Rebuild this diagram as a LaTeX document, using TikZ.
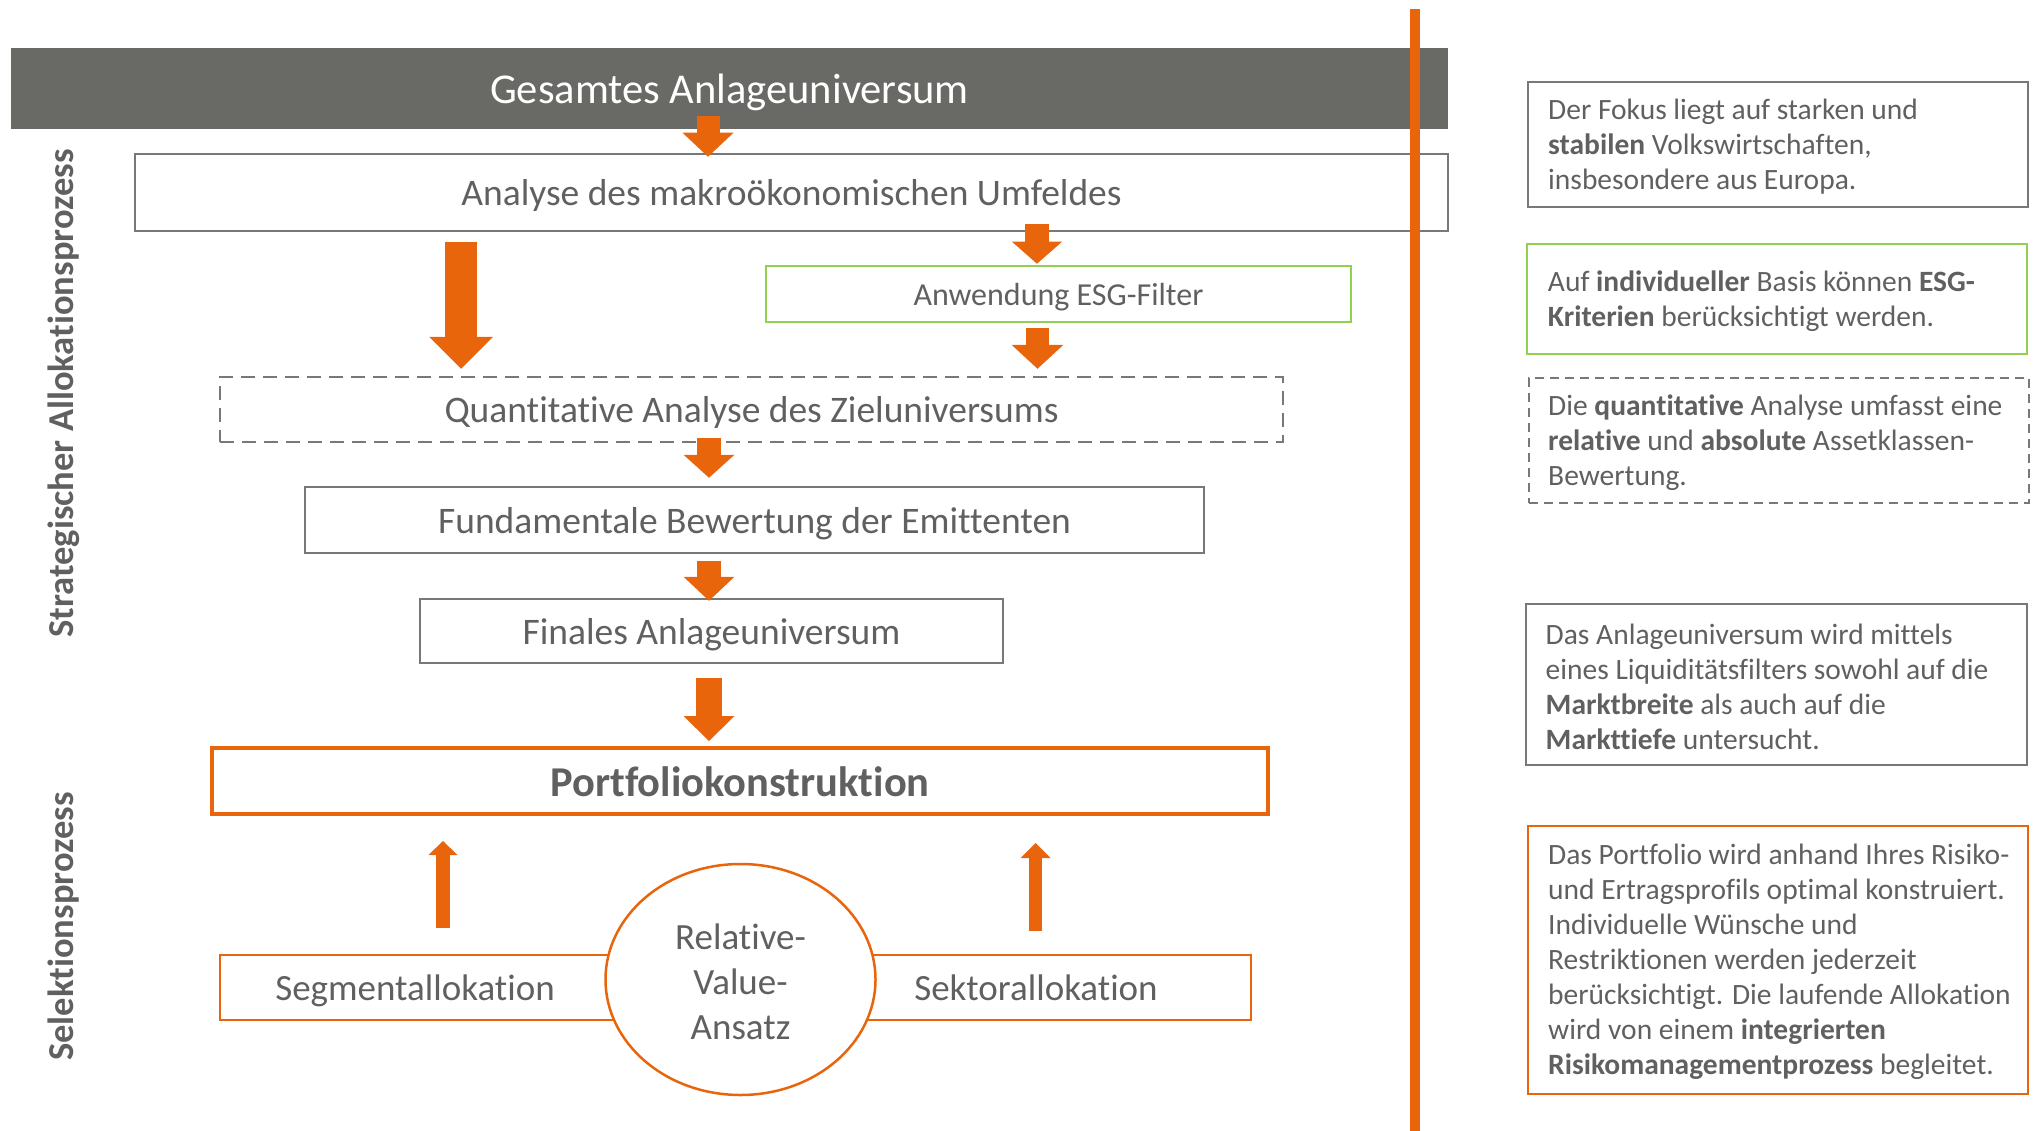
\documentclass[tikz,border=0pt]{standalone}
\usepackage{fontspec}
\setmainfont{Carlito}[Ligatures=CommonOff]
\usetikzlibrary{arrows.meta,shapes.geometric,calc}
\definecolor{org}{RGB}{233,101,12}
\definecolor{bargray}{RGB}{105,105,102}
\definecolor{txtgray}{RGB}{96,96,96}
\definecolor{lingray}{RGB}{120,120,120}
\definecolor{esggreen}{RGB}{146,208,80}
\newcommand\fbar{\fontsize{42.5}{50}\selectfont}
\newcommand\fmain{\fontsize{37.5}{45}\selectfont}
\newcommand\fesg{\fontsize{32}{38}\selectfont}
\newcommand\fport{\fontsize{42.5}{50}\selectfont\bfseries}
\newcommand\fseg{\fontsize{37}{44}\selectfont}
\newcommand\frv{\fontsize{37}{45}\selectfont}
\newcommand\fsa{\fontsize{29.5}{35}\selectfont}
\newcommand\flab{\fontsize{36.5}{44}\selectfont\bfseries}
\begin{document}
\begin{tikzpicture}[x=1pt,y=-1pt,
  every node/.style={text=txtgray, inner sep=0pt},
  gbox/.style={draw=lingray, line width=2.5pt, font=\fmain, text height=36pt, text depth=9.4pt},
  obox/.style={draw=org, line width=2.5pt, font=\fseg, text height=35.5pt, text depth=9.3pt},
  rbox/.style={draw=lingray, line width=2pt, minimum width=500pt},
  rtext/.style={anchor=west, align=left, font=\fsa, yshift=-2pt},
  barr/.style n args={3}{draw=org, line width=#1, -{Triangle[width=#2 0 0, length=#3 0 0, line width=0pt]}}
]
\useasboundingbox (0,0) rectangle (2033,1131);

% left column
\node[fill=bargray, minimum width=1437pt, minimum height=81pt, text=white, font=\fbar, text height=40.8pt, text depth=10.6pt] (g) at (729.5,88.5) {Gesamtes Anlageuniversum};
\node[gbox, minimum width=1313pt, minimum height=77pt] (ana) at (791.5,192.5) {Analyse des makroökonomischen Umfeldes};
\node[draw=esggreen, line width=2.5pt, minimum width=585pt, minimum height=56pt, font=\fesg, text height=30.7pt, text depth=8pt] (esg) at (1058.5,294) {Anwendung ESG-Filter};
\node[gbox, dash pattern=on 14pt off 8pt, minimum width=1063pt, minimum height=65pt] (quant) at (751.5,409.5) {Quantitative Analyse des Zieluniversums};
\node[gbox, minimum width=899pt, minimum height=66pt] (fund) at (754.5,520) {Fundamentale Bewertung der Emittenten};
\node[gbox, minimum width=583pt, minimum height=64pt] (fin) at (711.5,631) {Finales Anlageuniversum};
\node[draw=org, line width=4pt, minimum width=1056pt, minimum height=66pt, font=\fport, text height=40.8pt, text depth=10.6pt] (port) at (740,781) {Portfoliokonstruktion};
\node[obox, minimum width=440pt, minimum height=65pt] (seg) at (440,987.5) {Segmentallokation\hspace*{50pt}};
\node[obox, minimum width=430pt, minimum height=65pt] (sek) at (1036,987.5) {Sektorallokation};
\node[ellipse, draw=org, fill=white, line width=2.5pt, minimum width=270pt, minimum height=231pt, align=center, font=\frv] (rv) at (740.5,979.5) {\rule{0pt}{30pt}Relative-\\Value-\\Ansatz};

\node[rotate=90, font=\flab] (l1) at (64,393.5) {Strategischer Allokationsprozess};
\node[rotate=90, font=\flab] (l2) at (64,926.5) {Selektionsprozess};

% arrows
\draw[barr={23pt}{51pt}{24pt}] ($(g.south)+(-21.5,-13)$) -- ($(ana.north)+(-83.5,4)$);
\draw[barr={32pt}{64pt}{32pt}] ($(ana.south)+(-330.5,10)$) -- ($(quant.north)+(-290.5,-7)$);
\draw[barr={24pt}{50pt}{22pt}] ($(ana.south)+(245.5,-8)$) -- ($(esg.north)+(-21.5,-1)$);
\draw[barr={23pt}{52pt}{24pt}] ($(esg.south)+(-21,5)$) -- ($(quant.north)+(286,-7)$);
\draw[barr={24pt}{51pt}{23pt}] ($(quant.south)+(-42.5,-5)$) -- ($(fund.north)+(-45.5,-8)$);
\draw[barr={24pt}{51pt}{24pt}] ($(fund.south)+(-45.5,7)$) -- ($(fin.north)+(-2.5,3)$);
\draw[barr={26pt}{51pt}{25pt}] ($(fin.south)+(-2.5,14)$) -- ($(port.north)+(-31,-5)$);
\draw[barr={14pt}{29pt}{14pt}] ($(seg.north)+(3,-26)$) -- ($(port.south)+(-297,25)$);
\draw[barr={13pt}{30pt}{15pt}] ($(sek.north)+(-0.5,-23)$) -- ($(port.south)+(295.5,27)$);

% divider
\draw[org, line width=9.5pt] (1415,9) -- (1415,1131);

% right column
\node[rbox, minimum height=125pt] (bA) at (1778,144.5) {};
\node[rtext] (tA) at ([xshift=21pt]bA.west) {Der Fokus liegt auf starken und\\\textbf{stabilen} Volkswirtschaften,\\insbesondere aus Europa.};
\node[rbox, draw=esggreen, line width=2.5pt, minimum height=110pt] (bB) at (1777,299) {};
\node[rtext] (tB) at ([xshift=22pt]bB.west) {Auf \textbf{individueller} Basis können \textbf{ESG-}\\\textbf{Kriterien} berücksichtigt werden.};
\node[rbox, dash pattern=on 9pt off 6pt, minimum height=125pt] (bC) at (1779,440.5) {};
\node[rtext] (tC) at ([xshift=20pt]bC.west) {Die \textbf{quantitative} Analyse umfasst eine\\\textbf{relative} und \textbf{absolute} Assetklassen-\\Bewertung.};
\node[rbox, minimum width=501.5pt, minimum height=161pt] (bD) at (1776.25,684.5) {};
\node[rtext] (tD) at ([xshift=21pt]bD.west) {Das Anlageuniversum wird mittels\\eines Liquiditätsfilters sowohl auf die\\\textbf{Marktbreite} als auch auf die\\\textbf{Markttiefe} untersucht.};
\node[rbox, draw=org, minimum height=268pt] (bE) at (1778,960) {};
\node[rtext] (tE) at ([xshift=21pt]bE.west) {Das Portfolio wird anhand Ihres Risiko-\\und Ertragsprofils optimal konstruiert.\\Individuelle Wünsche und\\Restriktionen werden jederzeit\\berücksichtigt. Die laufende Allokation\\wird von einem \textbf{integrierten}\\\textbf{Risikomanagementprozess} begleitet.};
\end{tikzpicture}
\end{document}
